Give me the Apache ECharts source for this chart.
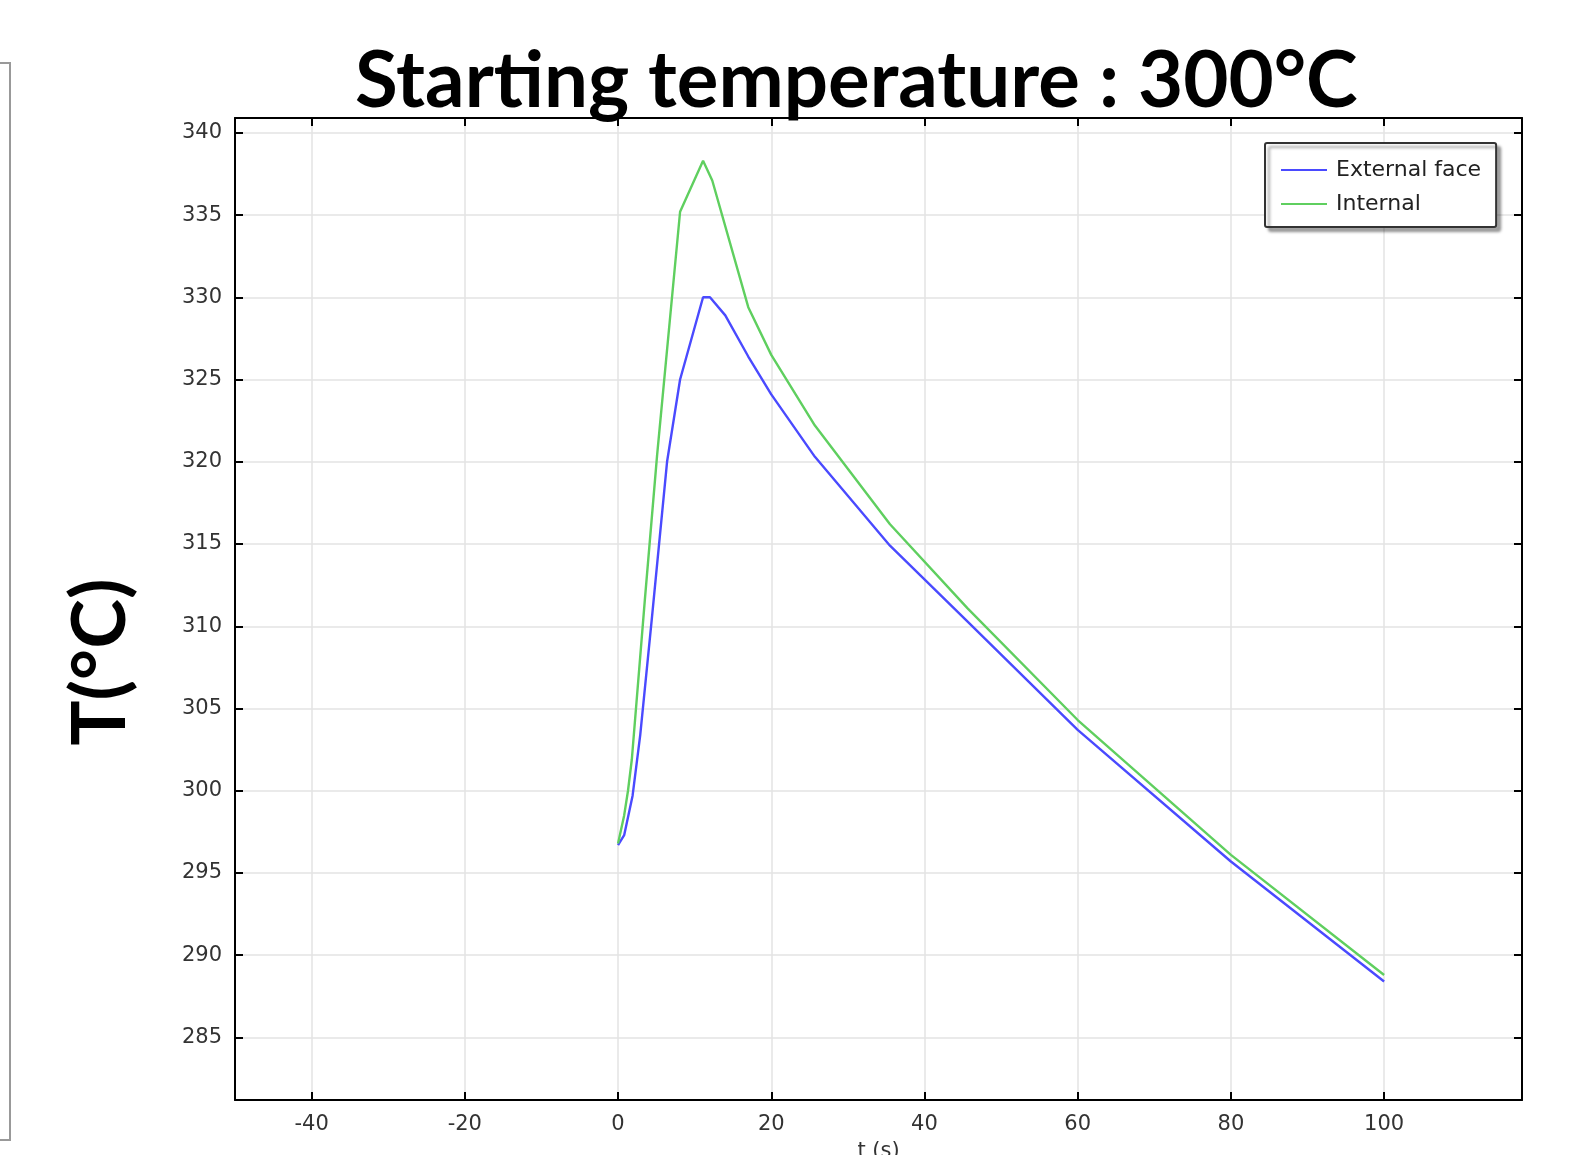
<!DOCTYPE html>
<html>
<head>
<meta charset="utf-8">
<script src="https://cdn.jsdelivr.net/npm/echarts@6/dist/echarts.min.js"></script>
<style>
  html, body { margin: 0; padding: 0; background: #fff; }
  #chart { width: 1569px; height: 1155px; }
</style>
</head>
<body>
<div id="chart"></div>
<script>
// values
var xTicks = [-40, -20, 0, 20, 40, 60, 80, 100];
var yTicks = [285, 290, 295, 300, 305, 310, 315, 320, 325, 330, 335, 340];

var timeExt = [0, 0.8, 1.9, 2.9, 4.4, 6.4, 8.1, 11.1, 12, 14, 17, 20, 25.7, 35.5, 45.6, 60, 80, 100];
var tempExt = [296.7, 297.3, 299.7, 303.4, 310.4, 320.0, 325.0, 330.0, 330.0, 328.9, 326.4, 324.1, 320.3, 314.9, 310.3, 303.7, 295.7, 288.4];

var timeInt = [0, 0.8, 1.3, 1.8, 3.5, 5.1, 8.1, 11.1, 12.3, 17, 20, 25.7, 35.5, 45.6, 60, 80, 100];
var tempInt = [296.8, 298.5, 300.0, 301.9, 311.6, 320.4, 335.2, 338.3, 337.1, 329.4, 326.5, 322.2, 316.2, 311.1, 304.3, 296.1, 288.8];

function pairs(xs, ys) {
    var out = [];
    for (var i = 0; i < xs.length; i++) out.push([xs[i], ys[i]]);
    return out;
}

var labelFont = { fontFamily: 'DejaVu Sans', fontSize: 21, color: '#333' };

function xAxisCfg(pos, showLabel) {
    return {
        type: 'value', position: pos, min: -50, max: 118,
        axisLine: { show: true, onZero: false, lineStyle: { color: '#000', width: 2 } },
        axisTick: { show: true, inside: true, length: 8, customValues: xTicks, lineStyle: { color: '#000', width: 2 } },
        axisLabel: Object.assign({ show: showLabel, margin: 14, customValues: xTicks }, labelFont),
        splitLine: { show: showLabel, lineStyle: { color: '#e3e3e3', width: 1.5 } }
    };
}
function yAxisCfg(pos, showLabel) {
    return {
        type: 'value', position: pos, min: 281.2, max: 340.9,
        axisLine: { show: true, onZero: false, lineStyle: { color: '#000', width: 2 } },
        axisTick: { show: true, inside: true, length: 8, customValues: yTicks, lineStyle: { color: '#000', width: 2 } },
        axisLabel: Object.assign({ show: showLabel, margin: 13, padding: [3, 0, 0, 0], customValues: yTicks }, labelFont),
        splitLine: { show: showLabel, lineStyle: { color: '#e3e3e3', width: 1.5 } }
    };
}

try {
    var chart = echarts.init(document.getElementById('chart'));
    var xa = xAxisCfg('bottom', true);
    xa.name = 't (s)';
    xa.nameLocation = 'middle';
    xa.nameGap = 41;
    xa.nameTextStyle = { fontFamily: 'DejaVu Sans', fontSize: 21, color: '#333' };

    chart.setOption({
        animation: false,
        backgroundColor: '#fff',
        title: {
            text: 'Starting temperature : 300°C',
            left: 350, top: 38,
            textStyle: { fontFamily: 'Lato', fontWeight: 'bold', fontSize: 78, color: '#000' }
        },
        grid: { left: 235, right: 47, top: 118, bottom: 55, containLabel: false, outerBoundsMode: 'none' },
        xAxis: [xa, xAxisCfg('top', false)],
        yAxis: [yAxisCfg('left', true), yAxisCfg('right', false)],
        legend: {
            orient: 'vertical', left: 1265, top: 143,
            padding: [16, 15, 12, 16], itemGap: 12,
            itemWidth: 46, itemHeight: 2, icon: 'rect',
            backgroundColor: '#fff', borderColor: '#333', borderWidth: 2, borderRadius: 2,
            shadowColor: 'rgba(0,0,0,0.35)', shadowOffsetX: 4, shadowOffsetY: 4, shadowBlur: 3,
            textStyle: { fontFamily: 'DejaVu Sans', fontSize: 22, color: '#222', padding: [0, 0, 0, 4] },
            data: ['External face', 'Internal']
        },
        graphic: [{
            type: 'rect', shape: { x: -10, y: 63, width: 20, height: 1077 },
            style: { fill: 'none', stroke: '#999', lineWidth: 2 }
        }, {
            type: 'text', x: 101, y: 662, rotation: Math.PI / 2,
            style: {
                text: 'T(°C)', fontFamily: 'Lato', fontWeight: 'bold', fontSize: 75, fill: '#000',
                align: 'center', verticalAlign: 'middle'
            }
        }],
        series: [{
            name: 'External face', type: 'line', symbol: 'none',
            lineStyle: { color: '#4a4aff', width: 2.4 }, itemStyle: { color: '#4a4aff' },
            data: pairs(timeExt, tempExt)
        }, {
            name: 'Internal', type: 'line', symbol: 'none',
            lineStyle: { color: '#5fcf5f', width: 2.4 }, itemStyle: { color: '#5fcf5f' },
            data: pairs(timeInt, tempInt)
        }]
    });
} catch (e) {
    console.log(e);
}
</script>
</body>
</html>
